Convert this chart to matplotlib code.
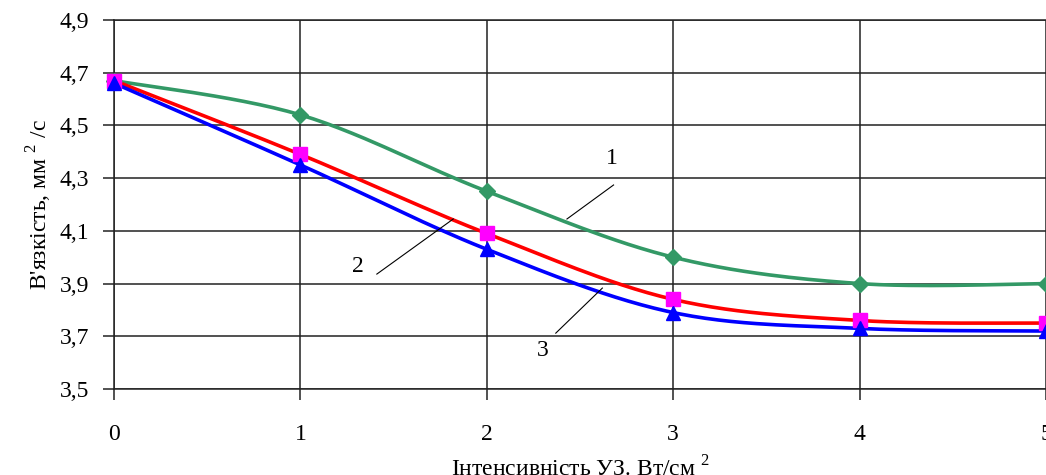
import numpy as np
import matplotlib.pyplot as plt

plt.rcParams['font.family'] = ['Liberation Serif', 'DejaVu Serif']
plt.rcParams['mathtext.fontset'] = 'custom'
plt.rcParams['mathtext.rm'] = 'Liberation Serif'

# intensity of ultrasound, W/cm^2
intensity = [0, 1, 2, 3, 4, 5]
# viscosity, mm^2/s, for three samples
visc_1 = [4.67, 4.54, 4.25, 4.00, 3.90, 3.90]
visc_2 = [4.67, 4.39, 4.09, 3.84, 3.76, 3.75]
visc_3 = [4.66, 4.35, 4.03, 3.79, 3.73, 3.72]

y_ticks = [3.5, 3.7, 3.9, 4.1, 4.3, 4.5, 4.7, 4.9]
y_tick_labels = ['3,5', '3,7', '3,9', '4,1', '4,3', '4,5', '4,7', '4,9']


def smooth(x, y, n=30):
    # Catmull-Rom curve through the points (like a "smoothed line" chart)
    x = np.asarray(x, float)
    y = np.asarray(y, float)
    px = np.concatenate([[x[0]], x, [x[-1]]])
    py = np.concatenate([[y[0]], y, [y[-1]]])
    xs, ys = [], []
    t = np.linspace(0, 1, n)
    for i in range(1, len(px) - 2):
        for arr, out in ((px, xs), (py, ys)):
            p0, p1, p2, p3 = arr[i - 1], arr[i], arr[i + 1], arr[i + 2]
            out.extend(0.5 * (2 * p1 + (-p0 + p2) * t
                              + (2 * p0 - 5 * p1 + 4 * p2 - p3) * t ** 2
                              + (-p0 + 3 * p1 - 3 * p2 + p3) * t ** 3))
    return np.array(xs), np.array(ys)


fig = plt.figure(figsize=(10.46, 4.75), dpi=100)
ax = fig.add_axes([0.109, 0.181, 0.891, 0.777])

series = [
    (visc_1, '#339966', 'D', '#339966', 8.5),
    (visc_2, '#ff0000', 's', '#ff00ff', 9.5),
    (visc_3, '#0000ff', '^', '#0000ff', 10.5),
]
for vals, col, mk, mcol, ms in series:
    sx, sy = smooth(intensity, vals)
    ax.plot(sx, sy, color=col, lw=2.6, zorder=3, clip_on=False)
    ax.plot(intensity, vals, ls='none', marker=mk, ms=ms, color=mcol,
            markeredgecolor=mcol, zorder=4, clip_on=False)

ax.set_xlim(0, 5)
ax.set_ylim(3.5, 4.9)
ax.set_xticks(intensity)
ax.set_yticks(y_ticks)
ax.set_yticklabels(y_tick_labels)
ax.grid(True, color='#222222', lw=1.1)
ax.set_axisbelow(True)
for s in ax.spines.values():
    s.set_color('#222222')
    s.set_linewidth(1.1)
ax.spines['right'].set_visible(False)
ax.tick_params(axis='both', labelsize=17, length=8, color='#222222', width=1.1)
ax.tick_params(axis='y', pad=10)
ax.tick_params(axis='x', pad=17)

# curve numbers with leader lines
fs = 17
ax.plot([2.43, 2.68], [4.145, 4.274], color='black', lw=0.8, zorder=5)
ax.text(2.67, 4.376, '1', fontsize=fs, ha='center', va='center')
ax.plot([1.41, 1.82], [3.936, 4.145], color='black', lw=0.8, zorder=5)
ax.text(1.31, 3.963, '2', fontsize=fs, ha='center', va='center')
ax.plot([2.37, 2.62], [3.712, 3.883], color='black', lw=0.8, zorder=5)
ax.text(2.30, 3.648, '3', fontsize=fs, ha='center', va='center')

ax.set_xlabel('Інтенсивність УЗ. Вт/см $^{2}$', fontsize=fs, labelpad=8)
ax.set_ylabel("В'язкість, мм $^{2}$ /с", fontsize=fs, labelpad=4)

fig.savefig('out.png', dpi=100)
